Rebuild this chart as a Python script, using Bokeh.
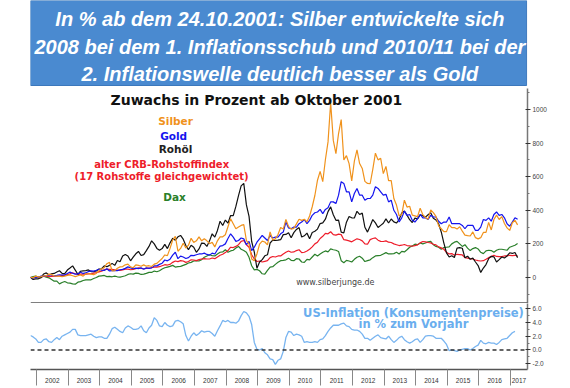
import numpy as np
from bokeh.plotting import figure
from bokeh.models import Range1d, FixedTicker, CustomJSTickFormatter, NumeralTickFormatter, Span, Label
from bokeh.layouts import column
from bokeh.embed import file_html
from bokeh.resources import INLINE
from bokeh.core.properties import value

# ---------------- data (monthly, % change since 24.10.2001) ----------------
START = 2001.81          # 24.10.2001 as fractional year
X_END = 2017.54

silber = [0, -1, 8,
          2, 5, 10, 10, 20, 17, 10, 8, 8, 5, 8, 12,
          15, 10, 5, 10, 15, 8, 22, 22, 20, 17, 24, 41,
          51, 58, 82, 90, 39, 41, 55, 63, 65, 75, 79, 63,
          58, 75, 72, 67, 75, 67, 70, 65, 79, 84, 99, 113,
          134, 130, 173, 223, 245, 156, 173, 204, 175, 192, 233, 209,
          218, 242, 218, 230, 218, 201, 209, 182, 218, 242, 242, 254,
          302, 350, 320, 290, 300, 310, 315, 220, 200, 110, 100, 140,
          199, 216, 211, 194, 271, 223, 230, 256, 297, 288, 345, 304,
          288, 292, 319, 347, 340, 347, 331, 366, 421, 488, 579, 632,
          570, 701, 807, 1040, 816, 737, 857, 940, 700, 725, 678, 575,
          692, 760, 678, 649, 572, 560, 558, 644, 740, 700, 709, 618,
          661, 577, 577, 470, 431, 367, 374, 460, 419, 424, 371, 367,
          362, 412, 374, 357, 347, 402, 386, 364, 307, 290, 273, 273,
          314, 297, 297, 288, 302, 276, 252, 249, 247, 271, 237, 230,
          237, 268, 268, 328, 283, 345, 371, 345, 362, 321, 295, 280,
          326, 340, 313]

gold = [0, -2, 0,
        1, 8, 8, 9, 16, 13, 10, 12, 16, 14, 15, 24,
        32, 25, 20, 21, 31, 24, 27, 35, 39, 38, 43, 49,
        44, 42, 52, 39, 41, 41, 41, 46, 48, 54, 63, 57,
        52, 56, 53, 57, 49, 57, 54, 57, 69, 69, 78, 85,
        104, 99, 109, 133, 150, 112, 127, 122, 113, 118, 132, 130,
        135, 140, 140, 145, 137, 133, 145, 140, 165, 187, 190, 200,
        232, 260, 240, 215, 220, 235, 230, 195, 215, 160, 180, 210,
        230, 250, 235, 220, 250, 235, 240, 240, 260, 270, 330, 295,
        290, 300, 300, 320, 330, 345, 320, 340, 370, 385, 390, 405,
        380, 405, 415, 450, 450, 440, 490, 570, 560, 510, 510, 450,
        500, 530, 490, 490, 460, 470, 470, 490, 540, 530, 510, 490,
        495, 450, 460, 400, 375, 330, 355, 395, 370, 375, 340, 330,
        350, 375, 355, 355, 345, 370, 360, 360, 335, 320, 330, 330,
        360, 320, 320, 320, 320, 310, 290, 310, 310, 310, 280, 280,
        300, 345, 340, 355, 335, 375, 390, 370, 375, 355, 320, 305,
        330, 355, 346]

rohoel = [0, -12, -8,
          -8, -1, 21, 27, 15, 22, 24, 32, 40, 24, 23, 44,
          56, 69, 44, 19, 37, 39, 41, 45, 35, 34, 39, 50,
          52, 69, 64, 72, 84, 72, 101, 94, 128, 137, 128, 99,
          121, 141, 155, 131, 136, 160, 185, 218, 200, 173, 162, 172,
          197, 172, 206, 233, 222, 242, 250, 228, 190, 166, 192, 180,
          150, 170, 205, 203, 185, 218, 260, 240, 280, 335, 309, 342,
          323, 369, 368, 423, 487, 545, 560, 432, 364, 214, 151, 55,
          92, 106, 129, 135, 205, 222, 220, 222, 225, 255, 256, 266,
          236, 267, 286, 297, 241, 248, 264, 231, 268, 275, 288, 321,
          325, 347, 392, 420, 373, 340, 341, 270, 265, 329, 363, 355,
          354, 394, 375, 383, 299, 270, 306, 345, 325, 297, 310, 323,
          349, 324, 348, 331, 324, 345, 384, 396, 371, 344, 327, 353,
          349, 373, 368, 359, 373, 386, 352, 342, 320, 271, 205, 146,
          122, 129, 119, 175, 178, 174, 117, 127, 108, 115, 92, 71,
          30, 56, 77, 112, 126, 123, 92, 106, 122, 116, 128, 147,
          143, 149, 118]

crb = [0, -2, 0,
       2, 3, 6, 6, 5, 7, 8, 8, 10, 12, 13, 17,
       22, 28, 22, 18, 20, 20, 20, 21, 22, 26, 29, 33,
       38, 45, 50, 48, 48, 45, 44, 42, 45, 50, 50, 46,
       48, 52, 58, 54, 52, 54, 56, 58, 62, 62, 64, 70,
       76, 74, 78, 90, 98, 94, 100, 98, 90, 95, 105, 104,
       100, 106, 110, 112, 110, 110, 116, 112, 122, 132, 138, 148,
       160, 180, 178, 185, 195, 215, 220, 195, 180, 135, 110, 95,
       98, 92, 96, 100, 118, 125, 122, 128, 128, 140, 150, 158,
       150, 152, 160, 165, 148, 150, 158, 168, 182, 200, 210, 232,
       245, 262, 260, 272, 255, 252, 258, 255, 225, 222, 218, 212,
       222, 230, 226, 218, 200, 198, 225, 232, 236, 222, 215, 214,
       218, 210, 208, 200, 195, 190, 192, 196, 190, 188, 186, 190,
       194, 206, 214, 212, 208, 206, 198, 194, 182, 176, 168, 150,
       140, 142, 132, 138, 136, 134, 118, 115, 112, 110, 104, 100,
       98, 100, 108, 118, 124, 132, 125, 124, 124, 128, 128, 132,
       130, 132, 128]

dax = [0, 5, 8,
       3, 2, 8, 2, -2, -12, -22, -22, -38, -30, -24, -32,
       -34, -38, -40, -28, -25, -18, -14, -14, -14, -6, 0, 8,
       10, 12, 5, 6, 4, 8, 4, 2, 6, 10, 18, 22,
       20, 26, 24, 18, 20, 24, 30, 30, 38, 34, 40, 50,
       58, 62, 66, 72, 62, 64, 66, 72, 78, 86, 90, 98,
       100, 98, 106, 120, 128, 135, 130, 128, 140, 150, 152, 165,
       150, 158, 162, 175, 185, 168, 160, 150, 120, 70, 45, 48,
       40, 22, 20, 42, 62, 64, 78, 90, 100, 102, 105, 115,
       102, 100, 112, 110, 92, 90, 108, 105, 122, 138, 128, 140,
       150, 158, 152, 170, 165, 162, 155, 100, 88, 102, 98, 92,
       108, 120, 126, 115, 95, 100, 105, 118, 128, 130, 132, 140,
       148, 140, 140, 142, 150, 140, 155, 152, 165, 180, 188, 198,
       195, 205, 200, 205, 212, 215, 195, 185, 180, 168, 178, 180,
       182, 200, 210, 215, 200, 185, 195, 175, 160, 172, 178, 170,
       150, 142, 158, 162, 160, 150, 162, 168, 168, 165, 162, 180,
       186, 192, 202]

# US-Inflation, % zum Vorjahr (Okt 2001 .. Feb 2017)
us_inflation = [2.1, 1.9, 1.6,
                1.1, 1.1, 1.5, 1.6, 1.2, 1.1, 1.5, 1.8, 1.5, 2.0, 2.2, 2.4,
                2.6, 3.0, 3.0, 2.2, 2.1, 2.1, 2.1, 2.2, 2.3, 2.0, 1.8, 1.9,
                1.9, 1.7, 1.7, 2.3, 3.1, 3.3, 3.0, 2.7, 2.5, 3.2, 3.5, 3.3,
                3.0, 3.0, 3.1, 3.5, 2.8, 2.5, 3.2, 3.6, 4.7, 4.3, 3.5, 3.4,
                4.0, 3.6, 3.4, 3.5, 4.2, 4.3, 4.1, 3.8, 2.1, 1.3, 2.0, 2.5,
                2.1, 2.4, 2.8, 2.6, 2.7, 2.7, 2.4, 2.0, 2.8, 3.5, 4.3, 4.1,
                4.3, 4.0, 4.0, 3.9, 4.2, 5.0, 5.6, 5.4, 4.9, 3.7, 1.1, 0.1,
                0.0, 0.2, -0.4, -0.7, -1.3, -1.4, -2.1, -1.5, -1.3, -0.2, 1.8, 2.7,
                2.6, 2.1, 2.3, 2.2, 2.0, 1.1, 1.2, 1.1, 1.1, 1.2, 1.1, 1.5,
                1.6, 2.1, 2.7, 3.2, 3.6, 3.6, 3.6, 3.8, 3.9, 3.5, 3.4, 3.0,
                2.9, 2.9, 2.7, 2.3, 1.7, 1.7, 1.4, 1.7, 2.0, 2.2, 1.8, 1.7,
                1.6, 2.0, 1.5, 1.1, 1.4, 1.8, 2.0, 1.5, 1.2, 1.0, 1.2, 1.5,
                1.6, 1.1, 1.5, 2.0, 2.1, 2.1, 2.0, 1.7, 1.7, 1.7, 1.3, 0.8,
                -0.1, 0.0, -0.1, -0.2, 0.0, 0.1, 0.2, 0.2, 0.0, 0.2, 0.5, 0.7,
                1.4, 1.0, 0.9, 1.1, 1.0, 1.0, 0.8, 1.1, 1.5, 1.6, 1.7, 2.1,
                2.5, 2.7]

years = list(range(2002, 2018))
tag_texts = {"gold": "346.78477", "silber": "313.36105", "dax": "202.48268", "rohoel": "118.45051"}
cpi_tag = "2.7"

banner_lines = ["In % ab dem 24.10.2001: Silber entwickelte sich",
                "2008 bei dem 1. Inflationsschub und 2010/11 bei der",
                "2. Inflationswelle deutlich besser als Gold"]

for s in (silber, gold, rohoel, crb, dax):
    assert len(s) == 186, len(s)
assert len(us_inflation) == 185

def month_x(n):
    return [START + k / 12.0 for k in range(n)]

x_px = month_x(186)
x_cpi = month_x(len(us_inflation))

C_SILBER = "#F0921C"
C_GOLD = "#1414EE"
C_OIL = "#111111"
C_CRB = "#EE1C2A"
C_DAX = "#2A7F2A"
C_INFL = "#78B4F0"

W = 566
LB, RB = 30, 39

# ---------------- banner ----------------
ban = figure(width=W, height=88, x_range=Range1d(0, W), y_range=Range1d(0, 88),
             toolbar_location=None, output_backend="svg", min_border=0,
             x_axis_location=None, y_axis_location=None)
ban.outline_line_color = None
ban.xgrid.visible = False
ban.ygrid.visible = False
ban.quad(left=[0], right=[W - 1], bottom=[3], top=[88], fill_color="#4A8AD0", line_color="#3C78BC")
ban.text(x=[284, 284, 284], y=[70, 42, 15], text=banner_lines,
         text_font=value("Liberation Sans"), text_font_style="bold italic",
         text_font_size="20px", text_color="white", text_align="center", text_baseline="middle")

# ---------------- upper panel ----------------
xr = Range1d(START, X_END)
top = figure(width=W, height=215, x_range=xr, y_range=Range1d(-155, 1125),
             toolbar_location=None, output_backend="svg",
             x_axis_location=None, y_axis_location="right",
             min_border_left=LB, min_border_right=RB, min_border_top=0, min_border_bottom=0)
top.outline_line_color = None
top.xgrid.visible = False
top.ygrid.visible = False
ya = top.yaxis[0]
ya.ticker = FixedTicker(ticks=[0, 200, 400, 600, 800, 1000],
                        minor_ticks=[-100, 100, 300, 500, 700, 900, 1100])
ya.axis_line_color = "#777777"
ya.axis_line_width = 1.5
ya.major_tick_in = 2
ya.major_tick_out = 3
ya.minor_tick_in = 0
ya.minor_tick_out = 2
ya.major_tick_line_color = "#333333"
ya.minor_tick_line_color = "#777777"
ya.major_label_text_font_size = "6.5px"
ya.major_label_text_color = "#444444"
ya.major_label_standoff = 2

for ser, col in ((dax, C_DAX), (crb, C_CRB), (rohoel, C_OIL), (gold, C_GOLD), (silber, C_SILBER)):
    top.line(x_px, ser, line_color=col, line_width=1.2)

top.add_layout(Span(location=-155, dimension="width", line_color="#555555", line_width=2.5))

top.text(x=[2008.96], y=[1054], text=["Zuwachs in Prozent ab Oktober 2001"],
         text_font=value("DejaVu Sans"), text_font_style="bold", text_font_size="14px",
         text_color="#111111", text_align="center", text_baseline="middle")
leg_txt = ["Silber", "Gold", "Rohöl", "alter CRB-Rohstoffindex", "(17 Rohstoffe gleichgewichtet)", "Dax"]
leg_col = [C_SILBER, C_GOLD, "#222222", C_CRB, C_CRB, C_DAX]
leg_x = [2006.40, 2006.34, 2006.40, 2005.96, 2005.96, 2006.37]
leg_y = [929, 845, 762, 673, 601, 482]
leg_sz = ["10.5px", "10.5px", "10.5px", "10px", "10px", "10.5px"]
for t, c, xx, yy, sz in zip(leg_txt, leg_col, leg_x, leg_y, leg_sz):
    top.text(x=[xx], y=[yy], text=[t], text_font=value("DejaVu Sans"), text_font_style="bold",
             text_font_size=sz, text_color=c, text_align="center", text_baseline="middle")
top.text(x=[2011.46], y=[-30], text=["www.silberjunge.de"], text_font=value("DejaVu Sans"),
         text_font_size="8px", text_color="#444444", text_align="center", text_baseline="middle")

for key, ser, col, tcol in (("gold", gold, C_GOLD, "white"), ("silber", silber, C_SILBER, "#3a2000"),
                            ("dax", dax, C_DAX, "white"), ("rohoel", rohoel, C_OIL, "white")):
    top.add_layout(Label(x=X_END, y=ser[-1], text=tag_texts[key], x_offset=1,
                         text_font="Liberation Sans", text_font_size="7px", text_color=tcol,
                         text_align="left", text_baseline="middle",
                         background_fill_color=col, border_line_color=col, padding=1))

# ---------------- lower panel ----------------
bot = figure(width=W, height=85, x_range=xr, y_range=Range1d(-2.84, 6.76),
             toolbar_location=None, output_backend="svg",
             x_axis_location="below", y_axis_location="right",
             min_border_left=LB, min_border_right=RB, min_border_top=0, min_border_bottom=19)
bot.outline_line_color = None
bot.xgrid.visible = False
bot.ygrid.visible = False
bot.line(x_cpi, us_inflation, line_color=C_INFL, line_width=1.3)
bot.add_layout(Span(location=0, dimension="width", line_color="#333333", line_width=1.3, line_dash="4 3"))

by = bot.yaxis[0]
by.ticker = FixedTicker(ticks=[-2, 0, 2, 4, 6], minor_ticks=[-1, 1, 3, 5])
by.formatter = NumeralTickFormatter(format="0.0")
by.axis_line_color = "#777777"
by.axis_line_width = 1.5
by.major_tick_in = 2
by.major_tick_out = 3
by.minor_tick_in = 0
by.minor_tick_out = 2
by.major_tick_line_color = "#333333"
by.minor_tick_line_color = "#777777"
by.major_label_text_font_size = "6.5px"
by.major_label_text_color = "#444444"
by.major_label_standoff = 2

bx = bot.xaxis[0]
label_pos = [min(y + 0.5, (y + X_END) / 2.0) for y in years]
bx.ticker = FixedTicker(ticks=label_pos, minor_ticks=years)
bx.formatter = CustomJSTickFormatter(code="return String(Math.floor(tick));")
bx.axis_line_color = "#555555"
bx.axis_line_width = 1.5
bx.major_tick_in = 0
bx.major_tick_out = 0
bx.minor_tick_in = 0
bx.minor_tick_out = 16
bx.minor_tick_line_color = "#888888"
bx.major_label_text_font_size = "6.5px"
bx.major_label_text_color = "#333333"
bx.major_label_standoff = -8

bot.text(x=[2013.93, 2013.93], y=[5.31, 3.71], text=["US-Inflation (Konsumentenpreise)", "in % zum Vorjahr"],
         text_font=value("DejaVu Sans"), text_font_style="bold", text_font_size="11.5px",
         text_color="#6AAEEE", text_align="center", text_baseline="middle")
bot.add_layout(Label(x=X_END, y=us_inflation[-1], text=cpi_tag, x_offset=1,
                     text_font="Liberation Sans", text_font_size="7px", text_color="#10203a",
                     text_align="left", text_baseline="middle",
                     background_fill_color="#6AB0F0", border_line_color="#4a90d0", padding=1))

p = column(ban, top, bot, spacing=0)
open("out.html", "w").write(file_html(p, INLINE))
